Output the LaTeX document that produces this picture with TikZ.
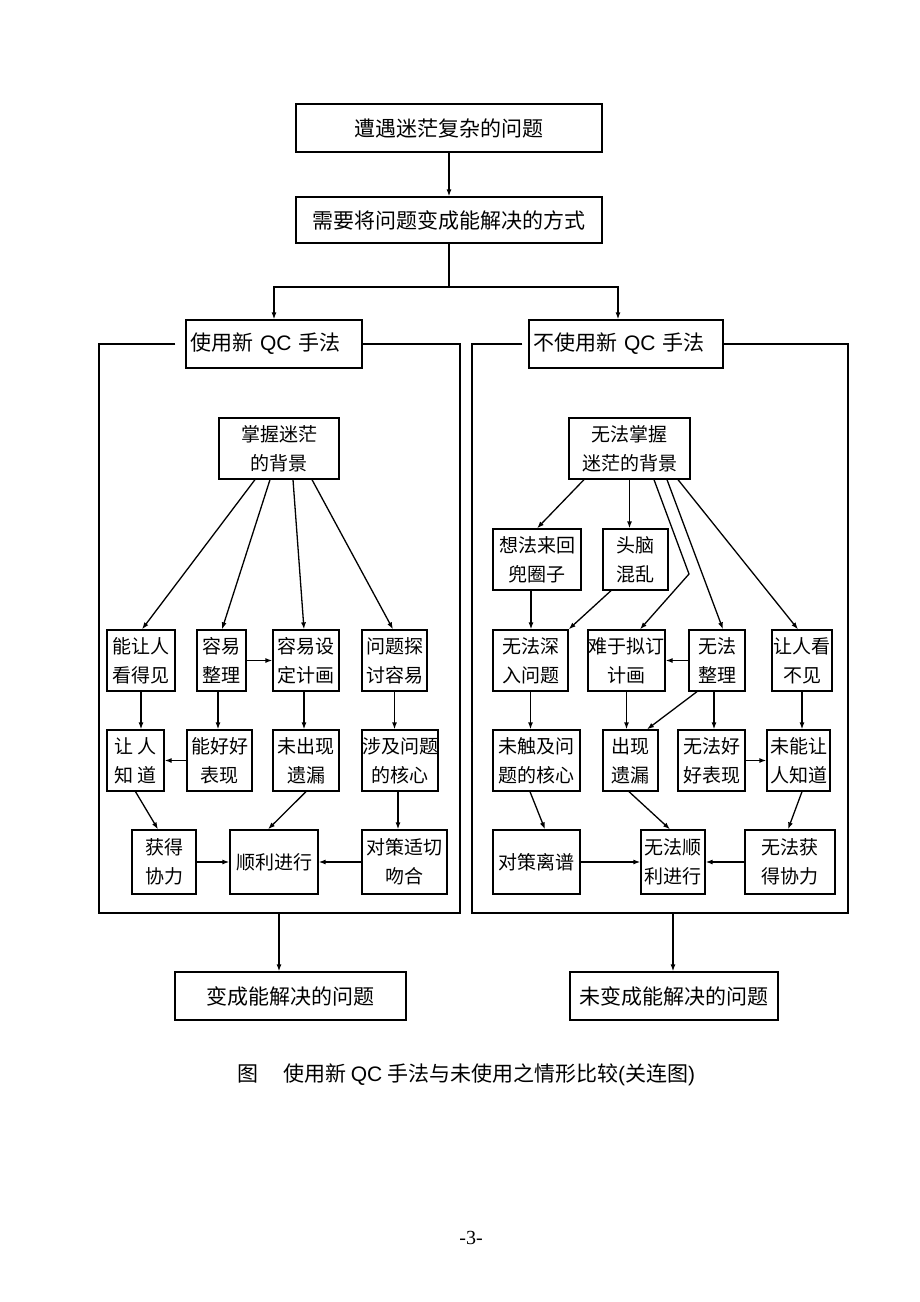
\documentclass[tikz,border=0pt]{standalone}
\usepackage{fontspec}
\setmainfont{Liberation Sans}
\newfontfamily\cjk{Noto Sans CJK SC}
\newfontfamily\latf{Liberation Sans}
\newfontfamily\serf{Liberation Serif}
\usetikzlibrary{arrows.meta}
\begin{document}
\begin{tikzpicture}[x=1pt,y=-1pt,
  bx/.style={draw, line width=1.3pt, inner sep=0pt, align=center, font=\cjk\fontsize{19}{29}\selectfont, minimum height=61pt},
  big/.style={draw, line width=1.3pt, inner sep=0pt, align=center, font=\cjk\fontsize{21}{25}\selectfont},
  arr/.style={line width=1.3pt, -{Latex[length=7pt,width=5pt]}},
  ln/.style={line width=1.3pt},
]
\useasboundingbox (0,0) rectangle (920,1302);
% top
\node[big, minimum width=306pt, minimum height=48pt] (t1) at (449,128) {遭遇迷茫复杂的问题};
\node[big, minimum width=306pt, minimum height=46pt] (t2) at (449,220) {需要将问题变成能解决的方式};
\node[big, minimum height=48pt, text width=168pt, inner xsep=4pt, align=left] (L0) at (274,344) {使用新 {\latf QC} 手法};
\node[big, minimum height=48pt, text width=186pt, inner xsep=4pt, align=left] (R0) at (626,344) {不使用新 {\latf QC} 手法};
\draw[arr] (t1.south) -- (t2.north);
\coordinate (br) at (449,287);
\draw[ln] (t2.south) -- (br);
\draw[arr] (br) -| (L0.north);
\draw[arr] (br) -| ([xshift=-8pt]R0.north);
% frames
\draw[ln] ([xshift=-10pt]L0.west) -- (99,344) -- (99,913) -- (460,913) -- (460,344) -- (L0.east);
\draw[ln] ([xshift=-6pt]R0.west) -- (472,344) -- (472,913) -- (848,913) -- (848,344) -- (R0.east);
% left panel
\node[bx, minimum width=120pt] (LA) at (279,448.5) {掌握迷茫\\的背景};
\node[bx, minimum width=68pt] (L11) at (141,660.5) {能让人\\看得见};
\node[bx, minimum width=49pt] (L12) at (221.5,660.5) {容易\\整理};
\node[bx, minimum width=66pt] (L13) at (306,660.5) {容易设\\定计画};
\node[bx, minimum width=65pt] (L14) at (394.5,660.5) {问题探\\讨容易};
\node[bx, minimum width=57pt] (L21) at (135.5,760.5) {让 人\\知 道};
\node[bx, minimum width=65pt] (L22) at (219.5,760.5) {能好好\\表现};
\node[bx, minimum width=66pt] (L23) at (306,760.5) {未出现\\遗漏};
\node[bx, minimum width=76pt] (L24) at (400,760.5) {涉及问题\\的核心};
\node[bx, minimum width=64pt, minimum height=64pt] (L31) at (164,862) {获得\\协力};
\node[bx, minimum width=88pt, minimum height=64pt] (L32) at (274,862) {顺利进行};
\node[bx, minimum width=85pt, minimum height=64pt] (L33) at (404.5,862) {对策适切\\吻合};
\draw[arr] ([xshift=-24pt]LA.south) -- ([xshift=1pt]L11.north);
\draw[arr] ([xshift=-9pt]LA.south) -- ([xshift=0.5pt]L12.north);
\draw[arr] ([xshift=14pt]LA.south) -- ([xshift=-2pt]L13.north);
\draw[arr] ([xshift=33pt]LA.south) -- ([xshift=-1.5pt]L14.north);
\draw[arr] (L12.east) -- (L13.west);
\draw[arr] (L11.south) -- (L11.south |- L21.north);
\draw[arr] ([xshift=-3.5pt]L12.south) -- ([xshift=-3.5pt]L12.south |- L22.north);
\draw[arr] ([xshift=-2pt]L13.south) -- ([xshift=-2pt]L13.south |- L23.north);
\draw[arr] (L14.south) -- (L14.south |- L24.north);
\draw[arr] (L22.west) -- (L21.east);
\draw[arr] (L21.south) -- ([xshift=-6pt]L31.north);
\draw[arr] (L23.south) -- ([xshift=-6pt]L32.north);
\draw[arr] ([xshift=-2pt]L24.south) -- ([xshift=-2pt]L24.south |- L33.north);
\draw[arr] (L31.east) -- (L32.west);
\draw[arr] (L33.west) -- (L32.east);
% right panel
\node[bx, minimum width=121pt] (RA) at (629.5,448.5) {无法掌握\\迷茫的背景};
\node[bx, minimum width=88pt] (RB1) at (537,559.5) {想法来回\\兜圈子};
\node[bx, minimum width=65pt] (RB2) at (635.5,559.5) {头脑\\混乱};
\node[bx, minimum width=75pt] (R11) at (530.5,660.5) {无法深\\入问题};
\node[bx, minimum width=77pt] (R12) at (626.5,660.5) {难于拟订\\计画};
\node[bx, minimum width=56pt] (R13) at (717,660.5) {无法\\整理};
\node[bx, minimum width=60pt] (R14) at (802,660.5) {让人看\\不见};
\node[bx, minimum width=87pt] (R21) at (536.5,760.5) {未触及问\\题的核心};
\node[bx, minimum width=55pt] (R22) at (630.5,760.5) {出现\\遗漏};
\node[bx, minimum width=67pt] (R23) at (711.5,760.5) {无法好\\好表现};
\node[bx, minimum width=63pt] (R24) at (798.5,760.5) {未能让\\人知道};
\node[bx, minimum width=87pt, minimum height=64pt] (R31) at (536.5,862) {对策离谱};
\node[bx, minimum width=64pt, minimum height=64pt] (R32) at (673,862) {无法顺\\利进行};
\node[bx, minimum width=90pt, minimum height=64pt] (R33) at (790,862) {无法获\\得协力};
\coordinate (bend) at (689,574);
\draw[arr] ([xshift=-45.5pt]RA.south) -- (RB1.north);
\draw[arr] (RA.south) -- (RA.south |- RB2.north);
\draw[arr] ([xshift=24.5pt]RA.south) -- (bend) -- ([xshift=13.5pt]R12.north);
\draw[arr] ([xshift=37.5pt]RA.south) -- ([xshift=6pt]R13.north);
\draw[arr] ([xshift=48.5pt]RA.south) -- ([xshift=-4pt]R14.north);
\draw[arr] ([xshift=-6pt]RB1.south) -- ([xshift=-6pt]RB1.south |- R11.north);
\draw[arr] ([xshift=-24.5pt]RB2.south) -- (R11.north east);
\draw[arr] (R13.west) -- (R12.east);
\draw[arr] (R11.south) -- (R11.south |- R21.north);
\draw[arr] (R12.south) -- (R12.south |- R22.north);
\draw[arr] ([xshift=-20pt]R13.south) -- ([xshift=16.5pt]R22.north);
\draw[arr] ([xshift=-3pt]R13.south) -- ([xshift=-3pt]R13.south |- R23.north);
\draw[arr] (R14.south) -- (R14.south |- R24.north);
\draw[arr] (R23.east) -- (R24.west);
\draw[arr] ([xshift=-6.5pt]R21.south) -- ([xshift=8.5pt]R31.north);
\draw[arr] ([xshift=-1.5pt]R22.south) -- ([xshift=-3pt]R32.north);
\draw[arr] ([xshift=3.5pt]R24.south) -- ([xshift=-2pt]R33.north);
\draw[arr] (R31.east) -- (R32.west);
\draw[arr] (R33.west) -- (R32.east);
% bottom
\node[big, minimum width=231pt, minimum height=48pt] (B1) at (290.5,996) {变成能解决的问题};
\node[big, minimum width=208pt, minimum height=48pt] (B2) at (674,996) {未变成能解决的问题};
\coordinate (lf) at (279,913);
\coordinate (rf) at (673,913);
\draw[arr] (lf) -- (lf |- B1.north);
\draw[arr] (rf) -- (rf |- B2.north);
\node[inner sep=0pt, anchor=west, font=\cjk\fontsize{21}{25}\selectfont] (cap) at (237,1075) {图\hspace{25pt}使用新 {\latf QC} 手法与未使用之情形比较{\latf (}关连图{\latf )}};
\node[inner sep=0pt, font=\serf\fontsize{20}{24}\selectfont] (pg) at (471,1238) {-3-};
\end{tikzpicture}
\end{document}
